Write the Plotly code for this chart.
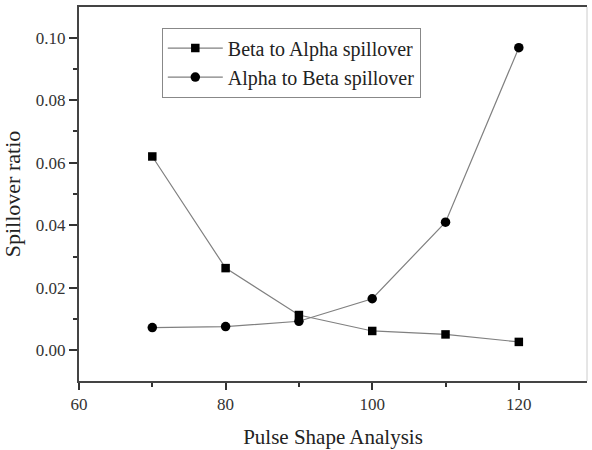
import plotly.graph_objects as go

x_vals = [70, 80, 90, 100, 110, 120]
beta_to_alpha = [0.062, 0.0263, 0.0113, 0.0062, 0.0051, 0.0027]
alpha_to_beta = [0.0073, 0.0076, 0.0093, 0.0165, 0.041, 0.0968]
x_ticks = [60, 80, 100, 120]
y_ticks = [0.00, 0.02, 0.04, 0.06, 0.08, 0.10]
y_tick_labels = ["0.00", "0.02", "0.04", "0.06", "0.08", "0.10"]

font_family = "Liberation Serif, Times New Roman, serif"

fig = go.Figure()
fig.add_trace(go.Scatter(
    x=x_vals, y=beta_to_alpha, mode="lines+markers",
    name="Beta to Alpha spillover",
    line=dict(color="#808080", width=1.2),
    marker=dict(symbol="square", size=8.5, color="black"),
))
fig.add_trace(go.Scatter(
    x=x_vals, y=alpha_to_beta, mode="lines+markers",
    name="Alpha to Beta spillover",
    line=dict(color="#808080", width=1.2),
    marker=dict(symbol="circle", size=9.5, color="black"),
))

fig.update_layout(
    width=592, height=450,
    margin=dict(l=79, r=5, t=7, b=66),
    paper_bgcolor="white", plot_bgcolor="white",
    font=dict(family=font_family, size=16, color="#333333"),
    legend=dict(
        x=0.163, y=0.945, xanchor="left", yanchor="top",
        bordercolor="#888888", borderwidth=1,
        font=dict(family=font_family, size=20, color="#222222"),
        bgcolor="white", tracegroupgap=0, itemwidth=55,
    ),
    xaxis=dict(
        range=[60, 129.3], tickvals=x_ticks,
        ticks="outside", ticklen=7, tickwidth=1.5, tickcolor="#333333",
        minor=dict(dtick=10, tick0=60, ticks="outside", ticklen=4, tickwidth=1.5, tickcolor="#333333"),
        showline=True, linecolor="#444444", linewidth=2, mirror=True,
        showgrid=False, zeroline=False,
        tickfont=dict(family=font_family, size=17),
        title=dict(text="Pulse Shape Analysis", font=dict(family=font_family, size=21, color="#222222"), standoff=16),
    ),
    yaxis=dict(
        range=[-0.0098, 0.1098], tickvals=y_ticks, ticktext=y_tick_labels,
        ticks="outside", ticklen=8, tickwidth=1.5, tickcolor="#333333",
        minor=dict(dtick=0.01, tick0=0, ticks="outside", ticklen=4, tickwidth=1.5, tickcolor="#333333"),
        showline=True, linecolor="#444444", linewidth=2, mirror=False,
        showgrid=False, zeroline=False,
        tickfont=dict(family=font_family, size=17),
        title=dict(text="Spillover ratio", font=dict(family=font_family, size=22, color="#222222"), standoff=10),
    ),
)
fig.add_shape(type="line", xref="paper", yref="paper", x0=1, x1=1, y0=0, y1=1,
              line=dict(color="#cccccc", width=1))

fig.write_html("out.html")
